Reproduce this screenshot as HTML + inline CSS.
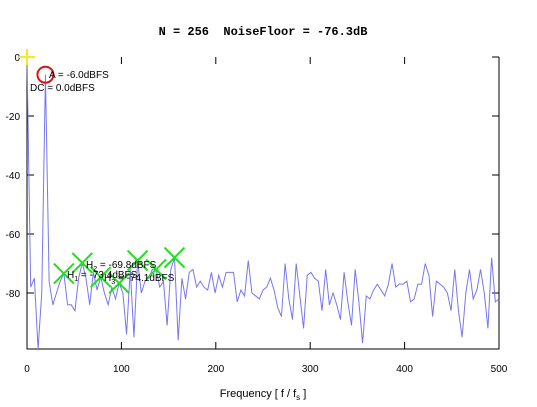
<!DOCTYPE html>
<html><head><meta charset="utf-8"><style>
body{margin:0;background:#fff}
svg{display:block;font-family:"Liberation Sans",sans-serif}
</style></head><body>
<svg width="537" height="407" viewBox="0 0 537 407">
<rect width="537" height="407" fill="#fff"/>
<text x="263" y="35" text-anchor="middle" font-family="Liberation Mono, monospace" font-weight="bold" font-size="12" style="white-space:pre">N = 256  NoiseFloor = -76.3dB</text>
<g id="axes"></g>
<polyline id="series" fill="none" stroke="#7777ee" stroke-width="1"/>
<g id="marks"></g>
<text x="263" y="397" text-anchor="middle" font-size="11">Frequency [ f / f<tspan font-size="8" dy="3">s</tspan><tspan dy="-3"> ]</tspan></text>
</svg>
<script>
const xTicks=[0,100,200,300,400,500];
const yTicks=[0,-20,-40,-60,-80];
const spectrum=[0,-78,-75,-99,-80,-6,-76,-84,-80,-76,-73.4,-84,-84,-86,-75,-69.8,-75,-84,-73,-79,-74.6,-80,-84,-78,-82,-76.7,-80,-94,-72,-95,-69,-80,-76,-75,-72,-72,-78,-76,-91,-72,-68,-96,-75,-82,-73,-72,-78,-76,-78,-79,-73,-80,-74,-78,-73,-73,-73,-83,-79,-81,-69,-80,-81,-82,-79,-78,-75,-79,-85,-88,-70,-82,-89,-70,-81,-92,-74,-73,-75,-76,-86,-72,-84,-80,-84,-89,-73,-83,-91,-72,-83,-97,-81,-82,-79,-77,-79,-81,-77,-70,-78,-77,-77,-76,-83,-82,-77,-77,-70,-74,-88,-76,-77,-78,-80,-86,-72,-86,-95,-80,-72,-82,-79,-72,-80,-92,-68,-83,-82];
const harmIdx=[10,15,20,25,30,35,40];
const labels=[["A = -6.0dBFS",49,78],["DC = 0.0dBFS",30,91],["H","2"," = -69.8dBFS",86,268],["H","1"," = -73.4dBFS",67,278],["H","3"," = -74.1dBFS",104,281]];
const NS="http://www.w3.org/2000/svg";
const X0=27,X1=499,Y0=57,Ybot=349;
const fx=f=>X0+(f/500)*(X1-X0);
const fy=d=>Y0-d*(293-57)/80;
const binF=i=>i*500/128;
const ax=document.getElementById('axes');
function el(t,a,p){const e=document.createElementNS(NS,t);for(const k in a)e.setAttribute(k,a[k]);(p||ax).appendChild(e);return e;}
const frame=el('path',{d:`M${X0},${Y0}V${Ybot}H${X1}V${Y0}`,fill:'none',stroke:'#000','stroke-width':1});


xTicks.forEach(t=>{const x=fx(t);
el('line',{x1:x,x2:x,y1:Ybot,y2:Ybot-7,stroke:'#000'});
el('line',{x1:x,x2:x,y1:Y0,y2:Y0+7,stroke:'#000'});
const tx=el('text',{x:x,y:372,'text-anchor':'middle','font-size':10});tx.textContent=t;

});
yTicks.forEach(t=>{const y=fy(t);
el('line',{x1:X0,x2:X0+7,y1:y,y2:y,stroke:'#000'});
el('line',{x1:X1,x2:X1-7,y1:y,y2:y,stroke:'#000'});
const tx=el('text',{x:20,y:y+4,'text-anchor':'end','font-size':10});tx.textContent=t;

});
document.getElementById('series').setAttribute('points',spectrum.map((v,i)=>fx(binF(i))+','+Math.min(Ybot,fy(v))).join(' '));
const mk=document.getElementById('marks');
harmIdx.forEach(i=>{const x=fx(binF(i)),y=fy(spectrum[i]);
const g=el('path',{d:`M${x-10},${y-10}L${x+10},${y+10}M${x-10},${y+10}L${x+10},${y-10}`,stroke:'#22dd22','stroke-width':2,fill:'none'},mk);

});
const c=el('circle',{cx:fx(binF(5)),cy:fy(-6),r:8,fill:'none',stroke:'#dd1111','stroke-width':2},mk);


const dc=el('path',{d:`M${X0-8},${Y0}H${X0+8}M${X0},${Y0-8}V${Y0+8}`,stroke:'#eeee22','stroke-width':2},mk);


labels.forEach(l=>{let t;
if(l.length===3){t=el('text',{x:l[1],y:l[2],'font-size':10},mk);t.textContent=l[0];}
else{t=el('text',{x:l[3],y:l[4],'font-size':10},mk);
const a=document.createElementNS(NS,'tspan');a.textContent=l[0];t.appendChild(a);
const b=document.createElementNS(NS,'tspan');b.setAttribute('font-size','7');b.setAttribute('dy','3');b.textContent=l[1];t.appendChild(b);
const d=document.createElementNS(NS,'tspan');d.setAttribute('dy','-3');d.textContent=l[2];t.appendChild(d);}

});
</script>
</body></html>
